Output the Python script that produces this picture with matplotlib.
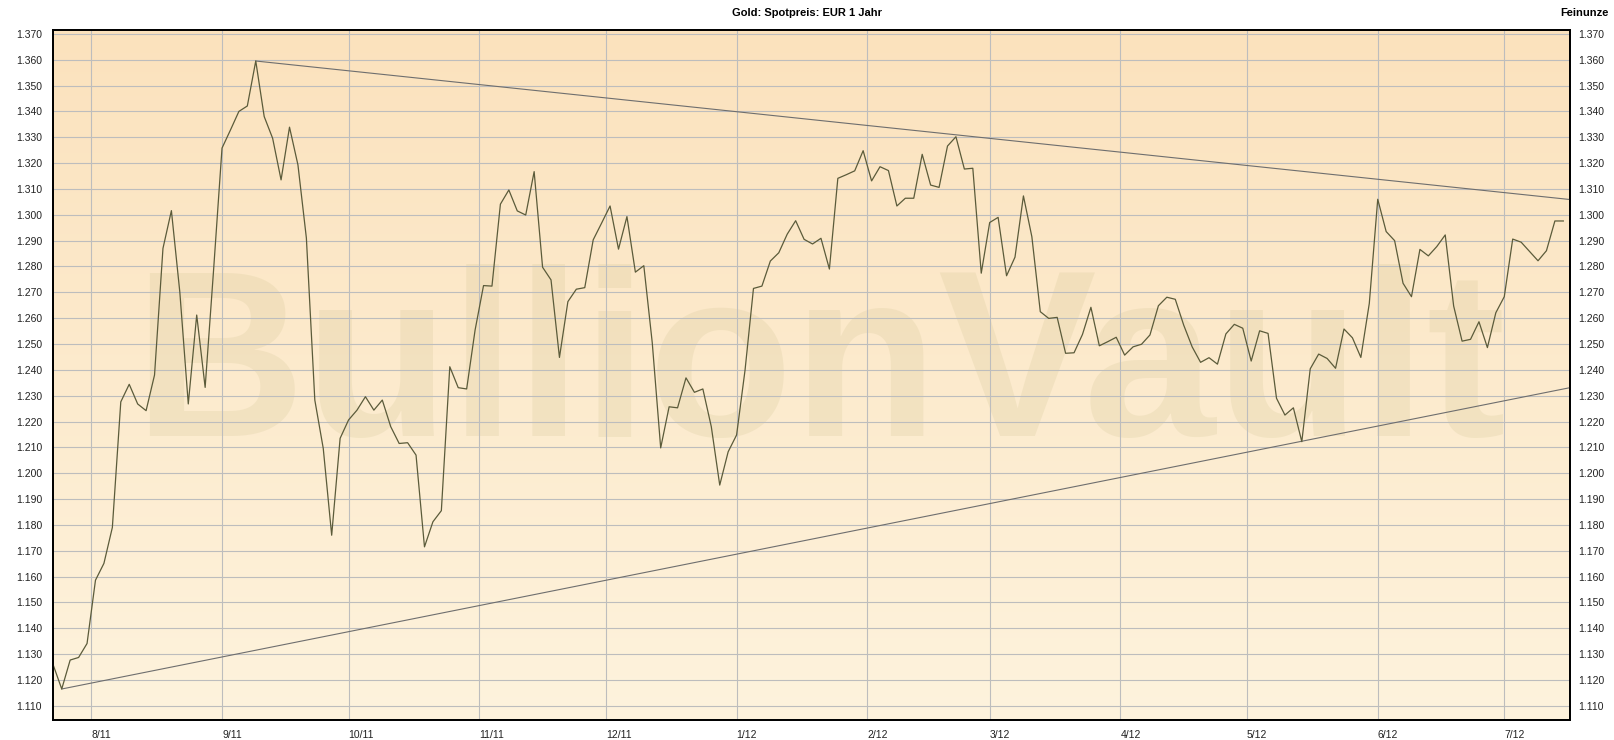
import numpy as np
import pandas as pd
import matplotlib
matplotlib.use("Agg")
import matplotlib.pyplot as plt
from matplotlib.colors import LinearSegmentedColormap

plt.rcParams['font.family'] = ['Liberation Sans', 'DejaVu Sans']

# gold spot price in EUR per fine ounce (thousands), one value every 2 days
price = [
    1.1257, 1.1165, 1.1277, 1.1287, 1.1341, 1.1586, 1.1651, 1.1790, 1.2276, 1.2344,
    1.2268, 1.2242, 1.2380, 1.2870, 1.3016, 1.2700, 1.2268, 1.2612, 1.2332, 1.2786,
    1.3258, 1.3328, 1.3400, 1.3421, 1.3595, 1.3380, 1.3296, 1.3135, 1.3339, 1.3193,
    1.2910, 1.2283, 1.2096, 1.1760, 1.2135, 1.2206, 1.2244, 1.2296, 1.2244, 1.2283,
    1.2180, 1.2115, 1.2118, 1.2070, 1.1715, 1.1812, 1.1855, 1.2412, 1.2331, 1.2326,
    1.2554, 1.2726, 1.2724, 1.3041, 1.3096, 1.3015, 1.2999, 1.3167, 1.2797, 1.2748,
    1.2448, 1.2664, 1.2712, 1.2718, 1.2903, 1.2968, 1.3034, 1.2867, 1.2993, 1.2778,
    1.2803, 1.2505, 1.2098, 1.2257, 1.2253, 1.2369, 1.2313, 1.2326, 1.2180, 1.1954,
    1.2083, 1.2148, 1.2399, 1.2715, 1.2724, 1.2821, 1.2853, 1.2925, 1.2977, 1.2905,
    1.2887, 1.2909, 1.2790, 1.3141, 1.3155, 1.3170, 1.3248, 1.3131, 1.3186, 1.3171,
    1.3034, 1.3064, 1.3064, 1.3234, 1.3115, 1.3106, 1.3266, 1.3302, 1.3177, 1.3180,
    1.2774, 1.2970, 1.2990, 1.2764, 1.2836, 1.3073, 1.2915, 1.2625, 1.2599, 1.2603,
    1.2464, 1.2466, 1.2537, 1.2642, 1.2493, 1.2509, 1.2526, 1.2457, 1.2489, 1.2499,
    1.2535, 1.2648, 1.2681, 1.2673, 1.2573, 1.2489, 1.2429, 1.2447, 1.2422, 1.2539,
    1.2576, 1.2561, 1.2434, 1.2551, 1.2541, 1.2290, 1.2225, 1.2253, 1.2122, 1.2404,
    1.2461, 1.2444, 1.2406, 1.2558, 1.2524, 1.2448, 1.2657, 1.3060, 1.2935, 1.2900,
    1.2735, 1.2683, 1.2866, 1.2841, 1.2877, 1.2922, 1.2647, 1.2511, 1.2518, 1.2586,
    1.2486, 1.2621, 1.2683, 1.2906, 1.2894, 1.2858, 1.2822, 1.2861, 1.2976, 1.2976,
]
dates = pd.date_range("2011-07-23", periods=len(price), freq="2D")

# trend lines (start point, end at right edge)
upper_dates = ["2011-09-09 00:00", "2012-07-16 14:00"]
upper_vals = [1.3595, 1.3059]
lower_dates = ["2011-07-25 00:00", "2012-07-16 14:00"]
lower_vals = [1.1165, 1.2331]

y_ticks = [round(1.11 + 0.01 * i, 3) for i in range(27)]
month_ticks = pd.date_range("2011-08-01", "2012-07-01", freq="MS")
month_labels = [f"{d.month}/{d.year % 100}" for d in month_ticks]

x_lim = (pd.Timestamp("2011-07-23"), pd.Timestamp("2012-07-16 14:00"))
y_lim = (1.1045, 1.3715)

fig = plt.figure(figsize=(16.15, 7.40), dpi=100)
pos = [53.3 / 1615, 20 / 740, (1570 - 53.3) / 1615, 690 / 740]

# background gradient
bg = fig.add_axes(pos, zorder=0)
cmap = LinearSegmentedColormap.from_list("bg", ["#fef3dd", "#fbe2bd"])
bg.imshow(np.linspace(0, 1, 256).reshape(-1, 1), cmap=cmap, aspect="auto",
          origin="lower", extent=[0, 1, 0, 1])
bg.axis("off")

ax = fig.add_axes(pos, zorder=1)
ax.patch.set_alpha(0)

ax.text(0.505, 0.4116, "BullionVault", transform=ax.transAxes, ha="center",
        va="baseline", fontsize=171, fontweight="bold",
        color=(0.76, 0.72, 0.50), alpha=0.17, zorder=1)

ax.plot(pd.to_datetime(upper_dates), upper_vals, color="#6e6e6e", lw=0.8, zorder=3)
ax.plot(pd.to_datetime(lower_dates), lower_vals, color="#6e6e6e", lw=0.8, zorder=3)
ax.plot(dates, price, color="#5b5b3a", lw=0.9, zorder=4)

ax.set_xlim(x_lim)
ax.set_ylim(y_lim)
ax.set_xticks(month_ticks)
ax.set_xticklabels(month_labels)
for lbl in ax.get_xticklabels():
    lbl.set_ha("left")
ax.set_yticks(y_ticks)
ax.set_yticklabels([f"{v:.3f}" for v in y_ticks])
ax.grid(True, color="#bdbdbd", lw=0.8)
ax.tick_params(axis="both", length=0, labelsize=7.5, colors="#222222")
ax.tick_params(axis="x", pad=7)
ax.tick_params(axis="y", pad=8)

ax2 = ax.twinx()
ax2.set_ylim(y_lim)
ax2.set_yticks(y_ticks)
ax2.set_yticklabels([f"{v:.3f}" for v in y_ticks])
ax2.tick_params(axis="y", length=0, labelsize=7.5, colors="#222222", pad=6)

for a in (ax, ax2):
    for s in a.spines.values():
        s.set_color("black")
        s.set_linewidth(1.3)

fig.text(0.5, 1 - 13 / 740, "Gold: Spotpreis: EUR 1 Jahr", ha="center", va="center",
         fontsize=8, fontweight="bold")
fig.text(1609 / 1615, 1 - 12.5 / 740, "Feinunze", ha="right", va="center",
         fontsize=8, fontweight="bold")

fig.savefig("out.png", dpi=100)
